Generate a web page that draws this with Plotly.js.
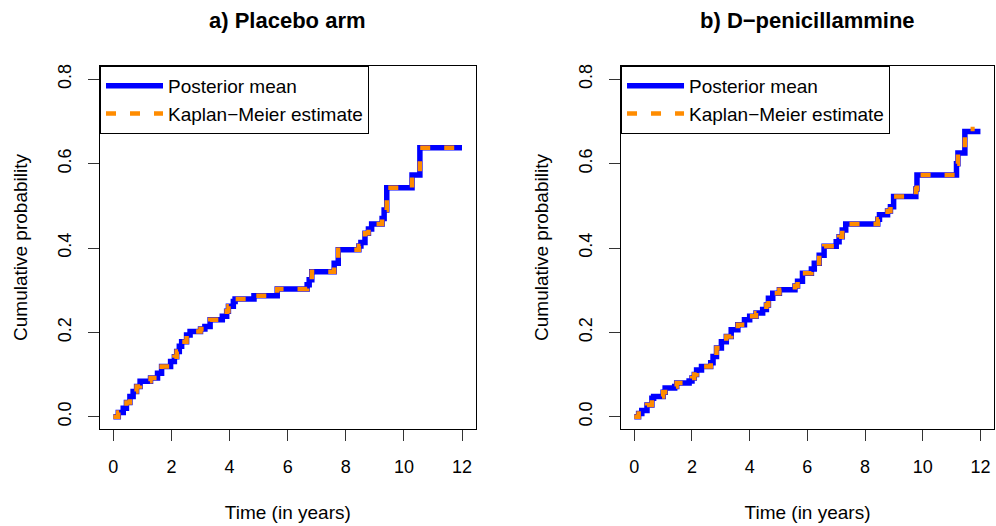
<!DOCTYPE html>
<html>
<head>
<meta charset="utf-8">
<script src="https://cdn.plot.ly/plotly-3.0.1.min.js"></script>
<style>html,body{margin:0;padding:0;background:#fff}</style>
</head>
<body>
<div id="chart" style="width:996px;height:526px"></div>
<script>
// ---- Data ----
const placeboTime = [0,0.17,0.34,0.45,0.57,0.68,0.8,0.92,1.28,1.52,1.66,1.97,2.1,2.18,2.27,2.35,2.52,2.64,3.0,3.15,3.33,3.75,3.9,3.96,4.13,4.19,4.84,5.64,6.67,6.74,6.83,7.6,7.74,8.45,8.52,8.66,8.78,8.89,9.25,9.32,9.41,10.28,10.55,12];
const placeboPost = [0,0.01,0.02,0.034,0.048,0.06,0.072,0.084,0.092,0.103,0.119,0.131,0.142,0.155,0.167,0.178,0.194,0.202,0.208,0.214,0.23,0.238,0.25,0.262,0.273,0.279,0.287,0.303,0.313,0.325,0.344,0.364,0.396,0.405,0.413,0.435,0.445,0.457,0.47,0.49,0.543,0.573,0.638,0.638];
const placeboKM   = [0,0.01,0.02,0.034,0.048,0.06,0.072,0.084,0.092,0.103,0.119,0.131,0.142,0.155,0.167,0.178,0.194,0.202,0.208,0.214,0.23,0.238,0.25,0.262,0.273,0.279,0.287,0.303,0.313,0.325,0.344,0.364,0.396,0.405,0.413,0.435,0.445,0.457,0.47,0.49,0.543,0.573,0.638,0.638];

const dpenTime = [0,0.15,0.26,0.44,0.61,0.67,1.0,1.07,1.4,1.47,1.9,2.0,2.08,2.16,2.33,2.65,2.73,2.85,3.02,3.19,3.36,3.59,3.82,4.0,4.22,4.45,4.58,4.65,4.8,5.03,5.57,5.66,5.83,6.14,6.24,6.41,6.58,7.0,7.1,7.21,7.33,8.44,8.5,8.78,8.88,8.99,9.76,9.8,11.17,11.22,11.46,12];
const dpenPost = [0,0.008,0.015,0.028,0.044,0.048,0.058,0.068,0.072,0.08,0.085,0.092,0.1,0.111,0.119,0.128,0.143,0.163,0.178,0.19,0.206,0.218,0.23,0.238,0.246,0.254,0.265,0.281,0.293,0.301,0.31,0.321,0.34,0.35,0.364,0.383,0.404,0.415,0.427,0.443,0.457,0.468,0.479,0.488,0.498,0.522,0.54,0.573,0.6,0.625,0.676,0.676];
const dpenKMTime = [0,0.15,0.26,0.44,0.61,0.67,1.0,1.07,1.4,1.47,1.9,2.0,2.08,2.16,2.33,2.65,2.73,2.85,3.02,3.19,3.36,3.59,3.82,4.0,4.22,4.45,4.58,4.65,4.8,5.03,5.57,5.66,5.83,6.14,6.24,6.41,6.58,7.0,7.1,7.21,7.33,8.44,8.5,8.78,8.88,8.99,9.76,9.8,11.17,11.22,11.46,11.8];
const dpenKM   = [0,0.008,0.015,0.028,0.044,0.048,0.058,0.068,0.072,0.08,0.085,0.092,0.1,0.111,0.119,0.128,0.143,0.163,0.178,0.19,0.206,0.218,0.23,0.238,0.246,0.254,0.265,0.281,0.293,0.301,0.31,0.321,0.34,0.35,0.364,0.383,0.404,0.415,0.427,0.443,0.457,0.468,0.479,0.488,0.498,0.522,0.54,0.573,0.6,0.625,0.682,0.682];

const seriesNames = ["Posterior mean", "Kaplan\u2212Meier estimate"];
const panelTitles = ["a) Placebo arm", "b) D\u2212penicillammine"];
const xTitle = "Time (in years)";
const yTitle = "Cumulative probability";
const xTicks = [0,2,4,6,8,10,12];
const yTicks = [0,0.2,0.4,0.6,0.8];
const yTickText = ["0.0","0.2","0.4","0.6","0.8"];

// ---- Styling ----
const FONT = "Liberation Sans, Arial, Helvetica, sans-serif";
const BLUE = "#0000FF";
const ORANGE = "#FF8C00";

function post(x, y, xa, ya, leg) {
  return {x: x, y: y, type: "scatter", mode: "lines", name: seriesNames[0],
    xaxis: xa, yaxis: ya, legend: leg,
    line: {color: BLUE, width: 5.5, shape: "hv"}, hoverinfo: "skip"};
}
function km(x, y, xa, ya, leg) {
  return {x: x, y: y, type: "scatter", mode: "lines", name: seriesNames[1],
    xaxis: xa, yaxis: ya, legend: leg,
    line: {color: ORANGE, width: 4.5, shape: "hv", dash: "10px,14px"}, hoverinfo: "skip"};
}

const traces = [
  post(placeboTime, placeboPost, "x", "y", "legend"),
  km(placeboTime, placeboKM, "x", "y", "legend"),
  post(dpenTime, dpenPost, "x2", "y2", "legend2"),
  km(dpenKMTime, dpenKM, "x2", "y2", "legend2")
];

function xax(domain, anchor) {
  return {domain: domain, anchor: anchor, range: [-0.46, 12.47], tickvals: xTicks,
    showline: true, mirror: true, linecolor: "#000", linewidth: 1,
    ticks: "outside", ticklen: 11, tickwidth: 1, tickcolor: "#333",
    ticklabelstandoff: 10,
    showgrid: false, zeroline: false, automargin: false,
    tickfont: {family: FONT, size: 18, color: "#000"},
    title: {text: xTitle, font: {family: FONT, size: 19, color: "#000"}, standoff: 30}};
}
function yax(domain, anchor) {
  return {domain: domain, anchor: anchor, range: [-0.029, 0.8315], tickvals: yTicks, ticktext: yTickText,
    tickangle: -90, showline: true, mirror: true, linecolor: "#000", linewidth: 1,
    ticks: "outside", ticklen: 11, tickwidth: 1, tickcolor: "#333",
    ticklabelstandoff: 10,
    showgrid: false, zeroline: false, automargin: false,
    tickfont: {family: FONT, size: 18, color: "#000"},
    title: {text: yTitle, font: {family: FONT, size: 19, color: "#000"}, standoff: 22}};
}

function legendBox(x) {
  return {x: x, y: 1, xref: "paper", yref: "paper", xanchor: "left", yanchor: "top",
    bgcolor: "rgba(255,255,255,0)", bordercolor: "#000", borderwidth: 1,
    font: {family: FONT, size: 19, color: "#000"}, itemwidth: 57, tracegroupgap: 0};
}

const layout = {
  width: 996, height: 526,
  margin: {l: 100, r: 2, t: 66, b: 97},
  paper_bgcolor: "#fff", plot_bgcolor: "#fff",
  font: {family: FONT, color: "#000"},
  xaxis: xax([0, 0.4202], "y"),
  yaxis: yax([0, 1], "x"),
  xaxis2: xax([0.5828, 1], "y2"),
  yaxis2: yax([0, 1], "x2"),
  legend: legendBox(0),
  legend2: legendBox(0.5828),
  annotations: [
    {text: "<b>" + panelTitles[0] + "</b>", xref: "x domain", yref: "paper", x: 0.5, y: 1, yshift: 46,
     xanchor: "center", yanchor: "middle", showarrow: false, font: {family: FONT, size: 22, color: "#000"}},
    {text: "<b>" + panelTitles[1] + "</b>", xref: "x2 domain", yref: "paper", x: 0.5, y: 1, yshift: 46,
     xanchor: "center", yanchor: "middle", showarrow: false, font: {family: FONT, size: 22, color: "#000"}}
  ]
};

Plotly.newPlot("chart", traces, layout, {displayModeBar: false, staticPlot: true});
</script>
</body>
</html>
